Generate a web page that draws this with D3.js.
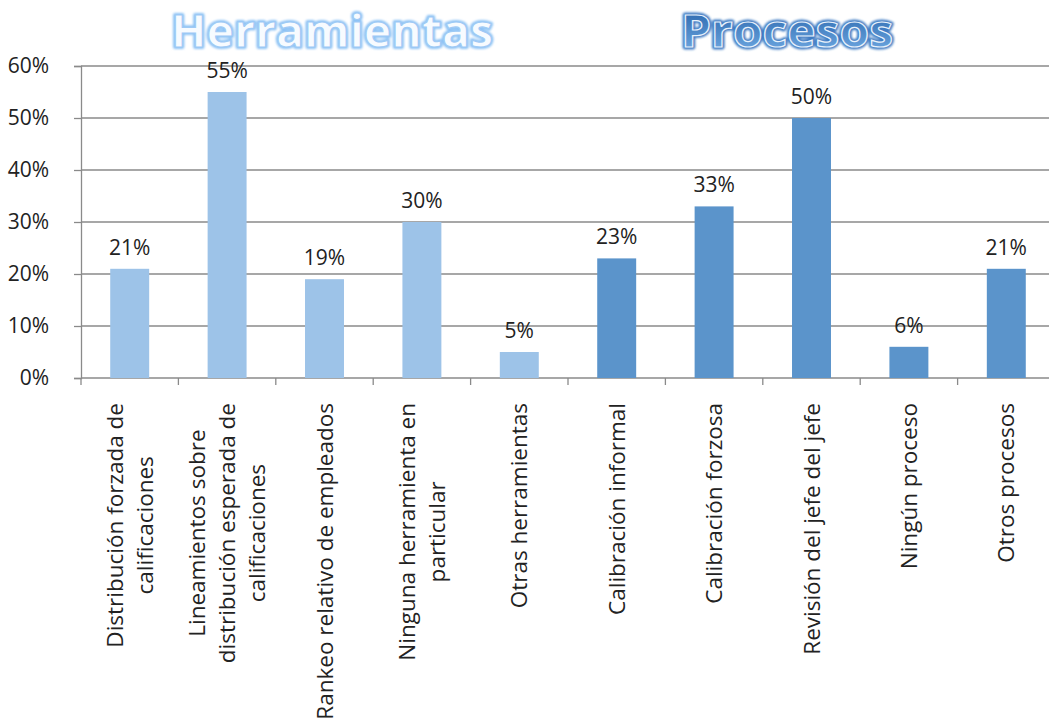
<!DOCTYPE html>
<html lang="es">
<head>
<meta charset="utf-8">
<title>Herramientas y Procesos</title>
<script src="https://cdn.jsdelivr.net/npm/d3@7"></script>
<style>
  body { margin: 0; background: #fff; }
  svg text { font-family: "Open Sans", "Noto Sans", sans-serif; fill: #222; }
</style>
</head>
<body>
<div id="chart"></div>
<script>
// data
var categories = [
  ["Distribución forzada de", "calificaciones"],
  ["Lineamientos sobre", "distribución esperada de", "calificaciones"],
  ["Rankeo relativo de empleados"],
  ["Ninguna herramienta en", "particular"],
  ["Otras herramientas"],
  ["Calibración informal"],
  ["Calibración forzosa"],
  ["Revisión del jefe del jefe"],
  ["Ningún proceso"],
  ["Otros procesos"]
];
var values = [0.21, 0.55, 0.19, 0.30, 0.05, 0.23, 0.33, 0.50, 0.06, 0.21];
var groups = ["Herramientas", "Herramientas", "Herramientas", "Herramientas", "Herramientas",
              "Procesos", "Procesos", "Procesos", "Procesos", "Procesos"];
var yTicks = [0, 0.1, 0.2, 0.3, 0.4, 0.5, 0.6];

var W = 1049, H = 728;
var svg = d3.select("#chart").append("svg")
  .attr("width", W).attr("height", H);

var defs = svg.append("defs");
var glow = defs.append("filter").attr("id", "glow")
  .attr("x", "-10%").attr("y", "-30%").attr("width", "120%").attr("height", "160%");
glow.append("feGaussianBlur").attr("in", "SourceGraphic").attr("stdDeviation", 1.2);

var grad = defs.append("linearGradient").attr("id", "procGrad")
  .attr("x1", 0).attr("y1", 0).attr("x2", 0).attr("y2", 1);
grad.append("stop").attr("offset", "0").attr("stop-color", "#1d5aa3");
grad.append("stop").attr("offset", "1").attr("stop-color", "#7ab3ea");

var x = d3.scaleBand()
  .domain(d3.range(values.length))
  .range([81, 1055])
  .paddingInner(0.6).paddingOuter(0.3);

var y = d3.scaleLinear().domain([0, 0.6]).range([378, 66]);

var color = d3.scaleOrdinal()
  .domain(["Herramientas", "Procesos"])
  .range(["#9dc3e8", "#5b94cb"]);

// gridlines
svg.append("g").selectAll("line").data(yTicks.slice(1)).join("line")
  .attr("x1", 81).attr("x2", W)
  .attr("y1", d => y(d)).attr("y2", d => y(d))
  .attr("stroke", "#8a8a8a").attr("stroke-width", 1.3);

// y axis
var yAxis = svg.append("g").attr("transform", "translate(81,0)")
  .call(d3.axisLeft(y).tickValues(yTicks).tickFormat(d3.format(".0%")).tickSize(7).tickPadding(25));
yAxis.select(".domain").attr("stroke", "#8a8a8a").attr("stroke-width", 1.3);
yAxis.selectAll(".tick line").attr("stroke", "#8a8a8a").attr("stroke-width", 1.3);
yAxis.selectAll(".tick text").attr("font-size", 21).attr("fill", "#222")
  .attr("font-family", "Open Sans, sans-serif");

// x axis line + ticks at category boundaries
svg.append("line").attr("x1", 81).attr("x2", W).attr("y1", y(0)).attr("y2", y(0))
  .attr("stroke", "#8a8a8a").attr("stroke-width", 1.3);
var step = x.step();
svg.append("g").selectAll("line").data(d3.range(values.length)).join("line")
  .attr("x1", d => 81 + d * step).attr("x2", d => 81 + d * step)
  .attr("y1", y(0)).attr("y2", y(0) + 7)
  .attr("stroke", "#8a8a8a").attr("stroke-width", 1.3);

// bars
svg.append("g").selectAll("rect").data(values).join("rect")
  .attr("x", (d, i) => x(i))
  .attr("width", x.bandwidth())
  .attr("y", d => y(d))
  .attr("height", d => y(0) - y(d))
  .attr("fill", (d, i) => color(groups[i]));

// value labels
svg.append("g").selectAll("text").data(values).join("text")
  .attr("x", (d, i) => x(i) + x.bandwidth() / 2)
  .attr("y", d => y(d) - 14)
  .attr("text-anchor", "middle")
  .attr("font-size", 21)
  .text(d => Math.round(d * 100) + "%");

// category labels, rotated
var lineGap = 30;
categories.forEach(function (lines, i) {
  var cx = x(i) + x.bandwidth() / 2;
  var g = svg.append("g");
  var texts = lines.map(function (t, k) {
    return g.append("text").attr("font-size", 22.5).attr("text-anchor", "middle").text(t);
  });
  var maxLen = d3.max(texts, t => t.node().getComputedTextLength());
  var n = lines.length;
  texts.forEach(function (t, k) {
    var lx = cx + (k - (n - 1) / 2) * lineGap + 8;
    var ly = 403 + maxLen / 2;
    t.attr("transform", "translate(" + lx + "," + ly + ") rotate(-90)");
  });
});

// titles
function title(txt, cx, fill, stroke, inner) {
  var g = svg.append("g");
  g.append("text").attr("x", cx).attr("y", 47).attr("text-anchor", "middle")
    .attr("font-family", "DejaVu Sans, sans-serif").attr("font-weight", "bold")
    .attr("font-size", 44).attr("textLength", inner.len).attr("lengthAdjust", "spacingAndGlyphs")
    .style("fill", fill).attr("stroke", stroke).attr("stroke-width", inner.sw)
    .attr("stroke-linejoin", "round").attr("filter", "url(#glow)")
    .text(txt);
  g.append("text").attr("x", cx).attr("y", 47).attr("text-anchor", "middle")
    .attr("font-family", "DejaVu Sans, sans-serif").attr("font-weight", "bold")
    .attr("font-size", 44).attr("textLength", inner.len).attr("lengthAdjust", "spacingAndGlyphs")
    .style("fill", inner.fill2).attr("stroke", inner.stroke2).attr("stroke-width", 1.2)
    .text(txt);
}
title("Herramientas", 332, "#cfe5fc", "#8ec3f5", { len: 322, sw: 4, fill2: "#f7fbff", stroke2: "#9fcaf5" });
title("Procesos", 787, "url(#procGrad)", "#3f7cc3", { len: 212, sw: 5, fill2: "url(#procGrad)", stroke2: "#e8f1fb" });
</script>
</body>
</html>
